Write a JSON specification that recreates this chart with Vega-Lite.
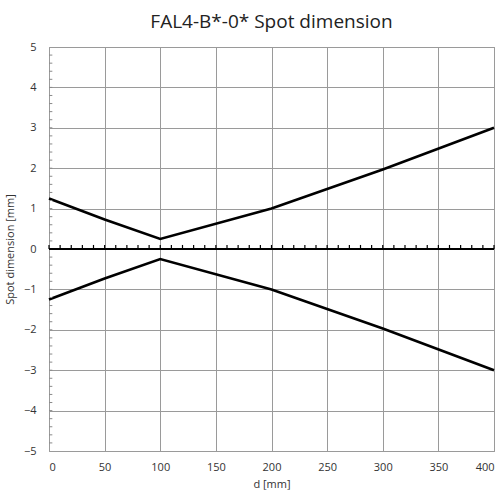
{
  "$schema": "https://vega.github.io/schema/vega-lite/v6.json",
  "width": 445,
  "height": 404,
  "autosize": "none",
  "padding": {"left": 49, "top": 47, "right": 1, "bottom": 45},
  "background": "white",
  "title": {"text": "FAL4-B*-0* Spot dimension", "font": "Open Sans", "fontSize": 19, "fontWeight": "normal", "color": "#222222", "anchor": "middle", "offset": 9},
  "config": {
    "view": {"stroke": "#8a8a8a", "strokeWidth": 1},
    "axis": {"labelFont": "Open Sans", "titleFont": "Open Sans", "labelFontSize": 11, "titleFontSize": 11, "titleFontWeight": "normal", "labelColor": "#333333", "titleColor": "#333333", "gridColor": "#9a9a9a", "gridOpacity": 1, "gridWidth": 1, "domain": false, "ticks": false}
  },
  "datasets": {
    "spot": [
      {"d": 0, "v": 1.25, "side": "upper"},
      {"d": 50, "v": 0.73, "side": "upper"},
      {"d": 100, "v": 0.25, "side": "upper"},
      {"d": 200, "v": 1.0, "side": "upper"},
      {"d": 300, "v": 1.97, "side": "upper"},
      {"d": 400, "v": 3.0, "side": "upper"},
      {"d": 0, "v": -1.25, "side": "lower"},
      {"d": 50, "v": -0.73, "side": "lower"},
      {"d": 100, "v": -0.25, "side": "lower"},
      {"d": 200, "v": -1.0, "side": "lower"},
      {"d": 300, "v": -1.97, "side": "lower"},
      {"d": 400, "v": -3.0, "side": "lower"}
    ],
    "xticks": [
      {"d": 0}, {"d": 10}, {"d": 20}, {"d": 30}, {"d": 40}, {"d": 50}, {"d": 60}, {"d": 70}, {"d": 80}, {"d": 90},
      {"d": 100}, {"d": 110}, {"d": 120}, {"d": 130}, {"d": 140}, {"d": 150}, {"d": 160}, {"d": 170}, {"d": 180}, {"d": 190},
      {"d": 200}, {"d": 210}, {"d": 220}, {"d": 230}, {"d": 240}, {"d": 250}, {"d": 260}, {"d": 270}, {"d": 280}, {"d": 290},
      {"d": 300}, {"d": 310}, {"d": 320}, {"d": 330}, {"d": 340}, {"d": 350}, {"d": 360}, {"d": 370}, {"d": 380}, {"d": 390}, {"d": 400}
    ],
    "yticks": [
      {"v": -4.8}, {"v": -4.6}, {"v": -4.4}, {"v": -4.2}, {"v": -4.0}, {"v": -3.8}, {"v": -3.6}, {"v": -3.4}, {"v": -3.2}, {"v": -3.0},
      {"v": -2.8}, {"v": -2.6}, {"v": -2.4}, {"v": -2.2}, {"v": -2.0}, {"v": -1.8}, {"v": -1.6}, {"v": -1.4}, {"v": -1.2}, {"v": -1.0},
      {"v": -0.8}, {"v": -0.6}, {"v": -0.4}, {"v": -0.2}, {"v": 0.2}, {"v": 0.4}, {"v": 0.6}, {"v": 0.8}, {"v": 1.0},
      {"v": 1.2}, {"v": 1.4}, {"v": 1.6}, {"v": 1.8}, {"v": 2.0}, {"v": 2.2}, {"v": 2.4}, {"v": 2.6}, {"v": 2.8}, {"v": 3.0},
      {"v": 3.2}, {"v": 3.4}, {"v": 3.6}, {"v": 3.8}, {"v": 4.0}, {"v": 4.2}, {"v": 4.4}, {"v": 4.6}, {"v": 4.8}
    ],
    "zero": [{"v": 0}]
  },
  "layer": [
    {
      "data": {"name": "spot"},
      "mark": {"type": "line", "color": "black", "strokeWidth": 2.6, "strokeJoin": "miter"},
      "encoding": {
        "x": {"field": "d", "type": "quantitative", "scale": {"domain": [0, 400], "nice": false},
          "axis": {"values": [0, 50, 100, 150, 200, 250, 300, 350, 400], "title": "d [mm]", "labelFlush": true, "labelPadding": 10, "titleY": 27, "titleBaseline": "top", "grid": true}},
        "y": {"field": "v", "type": "quantitative", "scale": {"domain": [-5, 5], "nice": false},
          "axis": {"values": [-5, -4, -3, -2, -1, 0, 1, 2, 3, 4, 5], "title": "Spot dimension [mm]", "labelPadding": 13, "titleX": -34, "grid": true}},
        "detail": {"field": "side"}
      }
    },
    {
      "data": {"name": "yticks"},
      "mark": {"type": "rule", "color": "#8a8a8a", "strokeWidth": 1},
      "encoding": {
        "y": {"field": "v", "type": "quantitative"},
        "x": {"datum": 0, "type": "quantitative"},
        "x2": {"datum": 3}
      }
    },
    {
      "data": {"name": "zero"},
      "mark": {"type": "rule", "color": "black", "strokeWidth": 2},
      "encoding": {
        "y": {"field": "v", "type": "quantitative"}
      }
    },
    {
      "data": {"name": "xticks"},
      "mark": {"type": "rule", "color": "black", "strokeWidth": 1.2},
      "encoding": {
        "x": {"field": "d", "type": "quantitative"},
        "y": {"datum": 0, "type": "quantitative"},
        "y2": {"datum": 0.1}
      }
    }
  ]
}
